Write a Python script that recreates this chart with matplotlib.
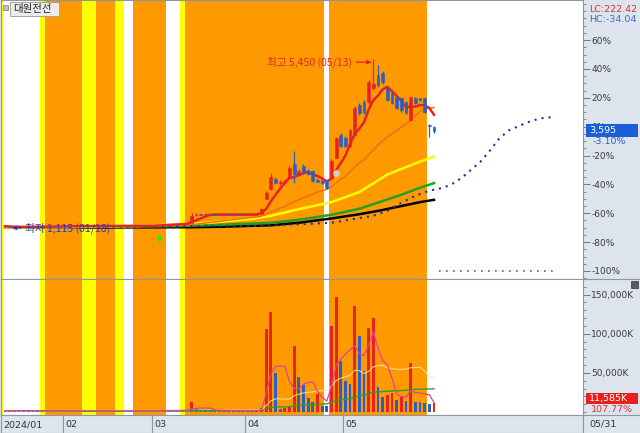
import numpy as np
import pandas as pd
import matplotlib
matplotlib.use('Agg')
import matplotlib.pyplot as plt
from matplotlib.patches import Rectangle
from matplotlib.lines import Line2D

KR = ['Noto Sans CJK KR', 'DejaVu Sans']
plt.rcParams['font.family'] = ['DejaVu Sans']

# ---------------- data ----------------
stock_name = '대원전선'
holidays = ['2024-02-09', '2024-02-12', '2024-03-01', '2024-04-10',
            '2024-05-01', '2024-05-06', '2024-05-15']
days = pd.bdate_range('2024-01-15', '2024-05-31')
days = days[~days.isin(pd.to_datetime(holidays))]

open_ = [1145, 1150, 1138, 1126, 1130, 1136, 1140, 1145, 1138, 1135, 1142, 1148, 1145,
         1150, 1152, 1155, 1148, 1160, 1158, 1152, 1150, 1155, 1160, 1162, 1158, 1155, 1160, 1165, 1158, 1160, 1162, 1165,
         1170, 1175, 1180, 1192, 1200, 1212, 1205, 1215, 1235, 1430, 1455, 1440, 1462, 1455, 1452, 1445, 1462, 1450, 1458, 1445,
         1452, 1448, 1455, 1475, 1858, 2116, 2374, 2250, 2290, 2400, 2761, 2480, 2710, 2581, 2581, 2340, 2310, 2323, 2400, 2916, 3484,
         3407, 3226, 3484, 4258, 4336, 4336, 4700, 5032, 5084, 4697, 4568, 4465, 4439, 4336, 3871, 4439, 4439, 4439, 3760, 3690]
high = [1160, 1155, 1142, 1140, 1140, 1145, 1150, 1148, 1142, 1146, 1152, 1152, 1155,
        1158, 1162, 1158, 1165, 1166, 1160, 1156, 1160, 1165, 1168, 1166, 1162, 1164, 1170, 1170, 1164, 1166, 1170, 1178,
        1185, 1188, 1198, 1210, 1220, 1218, 1222, 1245, 1500, 1480, 1465, 1480, 1470, 1462, 1458, 1475, 1465, 1462, 1462, 1458,
        1460, 1465, 1490, 1620, 2060, 2529, 2420, 2340, 2360, 2700, 3097, 2620, 2760, 2620, 2600, 2380, 2330, 2340, 2890, 3450, 3536,
        3460, 3650, 4230, 4320, 4400, 4900, 5450, 5290, 5150, 4720, 4600, 4500, 4480, 4360, 4480, 4470, 4460, 4470, 3790, 3720]
low = [1140, 1135, 1120, 1115, 1126, 1132, 1136, 1134, 1130, 1132, 1138, 1140, 1140,
       1145, 1148, 1144, 1145, 1154, 1148, 1146, 1148, 1152, 1156, 1155, 1152, 1152, 1156, 1155, 1154, 1156, 1158, 1160,
       1165, 1170, 1175, 1188, 1196, 1200, 1200, 1210, 1230, 1415, 1430, 1435, 1448, 1442, 1440, 1440, 1445, 1445, 1440, 1440,
       1440, 1440, 1450, 1470, 1840, 2090, 2240, 2220, 2260, 2380, 2271, 2450, 2500, 2480, 2300, 2280, 2230, 2120, 2380, 2900, 3180,
       3200, 3200, 3470, 4000, 4040, 4300, 4650, 4740, 4820, 4360, 4290, 4160, 4100, 4030, 3850, 4290, 4360, 4050, 3440, 3560]
close = [1150, 1138, 1125, 1130, 1136, 1140, 1145, 1138, 1135, 1142, 1148, 1145, 1150,
         1152, 1155, 1148, 1160, 1158, 1152, 1150, 1155, 1160, 1162, 1158, 1155, 1160, 1165, 1158, 1160, 1162, 1165, 1170,
         1175, 1180, 1190, 1200, 1210, 1205, 1215, 1230, 1420, 1450, 1440, 1460, 1455, 1450, 1445, 1460, 1450, 1455, 1445, 1450,
         1450, 1455, 1470, 1600, 2000, 2426, 2270, 2300, 2320, 2658, 2503, 2560, 2529, 2503, 2323, 2300, 2250, 2142, 2839, 3407, 3226,
         3226, 3613, 4181, 4052, 4078, 4852, 4800, 4774, 4852, 4387, 4310, 4181, 4129, 4052, 4465, 4310, 4387, 4078, 3720, 3595]
# volume in thousand shares
volume = [1500, 1800, 1200, 2500, 1400, 1100, 1300, 2200, 1000, 1200, 900, 1100, 1000,
          1200, 1000, 900, 1100, 800, 1000, 900, 1200, 1000, 900, 800, 1100, 1000, 900, 1300, 1000, 1200, 1100, 1400,
          1500, 1800, 2500, 2000, 1800, 1600, 2200, 3000, 12500, 4500, 3000, 2500, 2000, 1800, 2200, 1900, 1700, 2000, 1800, 1600,
          1500, 1800, 2000, 5000, 106000, 128000, 50000, 4000, 5000, 8000, 84000, 45000, 34000, 18000, 13000, 23000, 8000, 7500, 110000, 147000, 65000,
          40000, 36000, 136000, 97000, 52000, 107000, 120000, 32000, 19000, 22000, 24000, 15000, 19000, 14000, 63000, 13000, 12500, 11800, 10750, 11585]

# longer moving averages (day index, price)
yellow_idx = [0, 15, 29, 40, 46, 53, 57, 63, 70, 76, 82, 89, 92]
yellow_val = [1120, 1130, 1161, 1213, 1265, 1342, 1420, 1590, 1770, 2030, 2480, 2813, 2942]
green_idx = [0, 29, 40, 46, 57, 63, 70, 76, 80, 85, 89, 92]
green_val = [1115, 1140, 1165, 1187, 1239, 1316, 1445, 1600, 1760, 1960, 2140, 2260]
black_idx = [0, 40, 46, 57, 63, 70, 76, 80, 85, 89, 92]
black_val = [1110, 1125, 1136, 1175, 1240, 1350, 1460, 1545, 1670, 1770, 1830]
# leading span, projected past the last day
span_idx = [20, 55, 70, 75, 79, 82, 85, 88, 91, 94, 96, 98, 100, 102, 104, 106, 108, 110, 112, 114, 116, 117]
span_val = [1136, 1161, 1239, 1342, 1420, 1548, 1755, 1935, 2064, 2142, 2245, 2400, 2606, 2813, 3097, 3407,
            3613, 3716, 3820, 3897, 3949, 3949]
span2_idx = [93, 117.5]
span2_val = [0, 0]

signal_idx, signal_val = [33], [852]
gray_idx, gray_val = [71], [2529]

# background signal zones (first day, last day, colour)
zone_from = [-1, 8, 9, 17, 20, 24, 28, 38, 39, 70]
zone_to = [-1, 8, 16, 19, 23, 25, 34, 38, 68, 90]
zone_color = ['#ffff00', '#ffff00', '#ff9900', '#ffff00', '#ff9900', '#ffff00', '#ff9900', '#ffff00', '#ff9900', '#ff9900']

base_price = 3710  # 0% reference

# ---------------- layout ----------------
W, H = 640, 433
PANEL = '#dde4ee'
RED = '#e8231e'
BLUE = '#2a5fc8'
NAVY = '#3434c0'
LINE = '#8d97a3'


def frame(x0, y0, x1, y1):
    return [x0 / W, 1 - y1 / H, (x1 - x0) / W, (y1 - y0) / H]


fig = plt.figure(figsize=(W / 100, H / 100), dpi=100)
fig.patch.set_facecolor(PANEL)
axp = fig.add_axes(frame(1, 0, 583, 279))
axv = fig.add_axes(frame(1, 279, 583, 415))
axd = fig.add_axes(frame(1, 415, 583, 433))

n = len(days)
x = np.arange(n)
xlim = (-0.86, 123.96)

for ax in (axp, axv):
    ax.set_facecolor('white')
    for a, b, col in zip(zone_from, zone_to, zone_color):
        ax.axvspan(a - 0.5, b + 0.5, color=col, lw=0, zorder=0)

# price panel
o, h, l, c = (np.array(v, dtype=float) for v in (open_, high, low, close))
cc = np.where(c >= o, RED, BLUE)
s = pd.Series(c)
axp.plot(black_idx, black_val, color='black', lw=1.8, zorder=3)
axp.plot(green_idx, green_val, color='#22a022', lw=1.8, zorder=3)
axp.plot(yellow_idx, yellow_val, color='#ffff00', lw=1.8, zorder=3)
axp.plot(x, s.rolling(20, min_periods=1).mean(), color='#f36a10', lw=1.0, zorder=3)
axp.plot(span_idx, span_val, color='#2b2b9a', lw=1.5, ls=(0, (1, 2.4)), zorder=4)
axp.plot(span2_idx, span2_val, color='#b04060', lw=1.2, ls=(0, (1, 3.2)), zorder=4)
axp.plot(x, s.rolling(5, min_periods=1).mean(), color=RED, lw=1.8, zorder=4)
axp.vlines(x, l, h, colors=cc, lw=0.9, zorder=5)
axp.bar(x, np.abs(c - o), bottom=np.minimum(o, c), width=0.62, color=cc,
        edgecolor=cc, lw=0.4, zorder=6)
axp.plot(signal_idx, signal_val, 'o', color='#22ee22', ms=3.8, mec='none', zorder=8)
axp.plot(gray_idx, gray_val, 'o', color='#cfcfcf', ms=4.8, mec='none', zorder=8)

i_hi, i_lo = int(np.argmax(h)), int(np.argmin(l))
axp.annotate(f'최고 {h[i_hi]:,.0f} ({days[i_hi]:%m/%d})', xy=(i_hi - 0.4, 5370), xytext=(i_hi - 4.6, 5370),
             ha='right', va='center', color=RED, fontsize=7.6, family=KR,
             arrowprops=dict(arrowstyle='-|>', color=RED, lw=0.9, mutation_scale=6, shrinkA=1, shrinkB=0))
axp.annotate(f'최저 {l[i_lo]:,.0f} ({days[i_lo]:%m/%d})', xy=(i_lo - 1.5, 1110), xytext=(i_lo + 1.3, 1110),
             ha='left', va='center', color=NAVY, fontsize=7.6, family=KR,
             arrowprops=dict(arrowstyle='-|>', color=NAVY, lw=0.9, mutation_scale=6, shrinkA=1, shrinkB=0),
             zorder=9)

pct = np.arange(-100, 61, 20)
axp.set_ylim(-206, 6968)
axp.set_yticks(base_price * (1 + pct / 100))
axp.set_yticklabels([f'{p}%' for p in pct])
axp.set_yticks(base_price * (1 + np.arange(-105, 90, 5) / 100), minor=True)

# volume panel
v = np.array(volume, dtype=float)
vcol = np.where(np.r_[True, v[1:] >= v[:-1]], RED, BLUE)
vs = pd.Series(v)
axv.bar(x, v, width=0.62, color=vcol, lw=0, zorder=4)
axv.plot(x, vs.rolling(20, min_periods=1).mean(), color='#f2eab0', lw=0.8, alpha=0.8, zorder=5)
axv.plot(x, vs.rolling(60, min_periods=1).mean(), color='#2e9e2e', lw=1.0, zorder=5)
axv.plot(x, vs.rolling(5, min_periods=1).mean(), color='#e2409c', lw=0.9, zorder=6)
axv.set_ylim(-3850, 169200)
axv.set_yticks([50000, 100000, 150000])
axv.set_yticklabels(['50,000K', '100,000K', '150,000K'])
axv.set_yticks(np.arange(0, 170001, 10000), minor=True)

for ax in (axp, axv, axd):
    ax.set_xlim(xlim)
    ax.tick_params(axis='x', bottom=False, labelbottom=False)
    for sp in ax.spines.values():
        sp.set_color(LINE)
        sp.set_linewidth(0.8)
for ax in (axp, axv):
    ax.yaxis.tick_right()
    ax.tick_params(axis='y', which='major', length=5, width=0.7, color='#6f7984',
                   labelsize=6.5, labelcolor='#3a3a3a', pad=1)
    ax.tick_params(axis='y', which='minor', length=2.5, width=0.6, color='#6f7984')

# date band
axd.set_facecolor(PANEL)
axd.set_ylim(0, 1)
axd.set_yticks([])
month_pos = [i for i in range(n) if i == 0 or days[i].month != days[i - 1].month]
for k, i in enumerate(month_pos):
    if k == 0:
        xpos, lab = xlim[0], days[i].strftime('%Y/%m')
    else:
        xpos, lab = i - 0.5, days[i].strftime('%m')
        axd.axvline(xpos, color=LINE, lw=0.8)
    axd.text(xpos + 0.45, 0.45, lab, ha='left', va='center', fontsize=6.8, color='#333333')
fig.text(589 / W, 1 - 424 / H, days[-1].strftime('%m/%d'), ha='left', va='center', fontsize=6.8, color='#333333')

fig.add_artist(Line2D([583 / W, 1], [1 - 279 / H] * 2, color=LINE, lw=0.8))
fig.add_artist(Line2D([583 / W, 1], [1 - 415 / H] * 2, color=LINE, lw=0.8))

# right panel readouts
last, prev = c[-1], base_price
fig.text(637 / W, 1 - 9 / H, f'LC:{(last / l.min() - 1) * 100:.2f}', ha='right', va='center',
         color='#e03030', fontsize=6.8)
fig.text(637 / W, 1 - 19 / H, f'HC:{(last / h.max() - 1) * 100:.2f}', ha='right', va='center',
         color='#3a6ccc', fontsize=6.8)
fig.add_artist(Rectangle((586 / W, 1 - 137 / H), 52 / W, 13 / H, transform=fig.transFigure,
                         fc='#1a5fd6', ec='none'))
fig.text(589 / W, 1 - 130.5 / H, f'{last:,.0f}', ha='left', va='center', color='white', fontsize=6.8)
fig.text(593 / W, 1 - 142 / H, f'{(last / prev - 1) * 100:.2f}%', ha='left', va='center',
         color='#2a5ccc', fontsize=6.8)
fig.add_artist(Rectangle((586 / W, 1 - 404 / H), 52 / W, 11 / H, transform=fig.transFigure,
                         fc='#e8201c', ec='none'))
fig.text(589 / W, 1 - 398.5 / H, f'{v[-1]:,.0f}K', ha='left', va='center', color='white', fontsize=6.8)
fig.text(591 / W, 1 - 409 / H, f'{v[-1] / v[-2] * 100:.2f}%', ha='left', va='center',
         color='#e03030', fontsize=6.8)
fig.add_artist(Rectangle((631 / W, 1 - 288 / H), 7 / W, 7 / H, transform=fig.transFigure,
                         fc='#5a5a5a', ec='#333333', lw=0.5))

# name tag
fig.add_artist(Rectangle((10 / W, 1 - 16 / H), 49 / W, 14 / H, transform=fig.transFigure,
                         fc='#ececec', ec='#9a9a9a', lw=0.6, zorder=10))
fig.add_artist(Rectangle((3 / W, 1 - 10 / H), 5 / W, 5 / H, transform=fig.transFigure,
                         fc='#c0c0c0', ec='#777777', lw=0.5, zorder=10))
fig.text(13 / W, 1 - 9 / H, stock_name, ha='left', va='center', fontsize=7.5, family=KR,
         color='#222222', zorder=11)

fig.savefig('out.png', dpi=100, facecolor=fig.get_facecolor())
